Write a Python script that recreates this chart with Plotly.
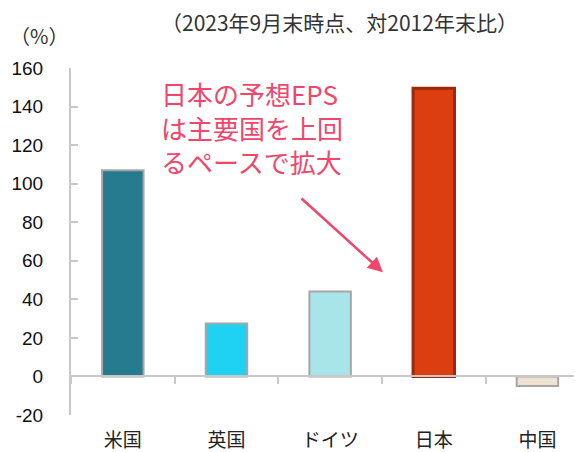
import plotly.graph_objects as go

categories = ["米国", "英国", "ドイツ", "日本", "中国"]
values = [107, 27.5, 44, 149.5, -5]
bar_colors = ["#277B8E", "#1FD2F2", "#A8E5E8", "#DC3E10", "#EEE2D2"]
line_colors = ["#A6A6A6", "#A6A6A6", "#A6A6A6", "#992A0C", "#A6A6A6"]
line_widths = [2, 2, 2, 3, 2]
y_ticks = [-20, 0, 20, 40, 60, 80, 100, 120, 140, 160]

FONT = "Liberation Sans, Arial, Noto Sans CJK JP, sans-serif"
CJK = "Noto Sans CJK JP, sans-serif"

fig = go.Figure()
fig.add_trace(go.Bar(
    x=categories, y=values, width=0.4,
    marker=dict(color=bar_colors, line=dict(color=line_colors, width=line_widths)),
    xaxis="x", yaxis="y", showlegend=False, hoverinfo="skip",
))
# invisible trace to carry the zero-line category axis
fig.add_trace(go.Scatter(
    x=categories, y=[0] * len(categories), mode="markers",
    marker=dict(opacity=0), xaxis="x2", yaxis="y", showlegend=False, hoverinfo="skip",
))

xrange = [-0.5, 4.43]
yrange = [-20, 160]
zero_pos = (0 - yrange[0]) / (yrange[1] - yrange[0])

# page has an 8px body margin, so the figure is drawn 8px in from the top-left
fig.update_layout(
    width=574, height=444,
    margin=dict(l=63, r=0, t=60, b=37, autoexpand=False),
    paper_bgcolor="white", plot_bgcolor="white",
    font=dict(family=FONT, color="#1a1a1a"),
    xaxis=dict(
        type="category", categoryorder="array", categoryarray=categories,
        range=xrange, showline=False, showgrid=False, ticks="",
        tickfont=dict(family=CJK, size=19, color="#222222"),
        ticklabelstandoff=12, fixedrange=True, automargin=False,
    ),
    xaxis2=dict(
        type="category", categoryorder="array", categoryarray=categories,
        range=xrange, overlaying="x", anchor="free", position=zero_pos,
        showline=True, linecolor="#C8C8C8", linewidth=2,
        ticks="outside", tickson="boundaries", ticklen=7, tickwidth=2, tickcolor="#C8C8C8",
        showticklabels=False, showgrid=False, automargin=False,
    ),
    yaxis=dict(
        range=yrange, tickvals=y_ticks, ticktext=[str(v) for v in y_ticks],
        showline=True, linecolor="#C8C8C8", linewidth=2,
        ticks="inside", ticklen=7, tickwidth=2, tickcolor="#C8C8C8",
        showgrid=False, zeroline=False, automargin=False,
        tickfont=dict(family=FONT, size=19, color="#111111"),
        ticklabelstandoff=22,
    ),
)

pink = "#F0466C"
annotations = [
    dict(text="（2023年9月末時点、対2012年末比）", xref="paper", yref="paper",
         x=(339 - 71) / 511, y=(415 - 22) / 347, showarrow=False,
         font=dict(family=CJK, size=21, color="#333333"), xanchor="center", yanchor="middle"),
    dict(text="（%）", xref="paper", yref="paper",
         x=(8 - 71) / 511, y=(415 - 36) / 347, showarrow=False,
         font=dict(family=CJK, size=20, color="#333333"), xanchor="left", yanchor="middle"),
    dict(text="日本の予想EPS<br>は主要国を上回<br>るペースで拡大", xref="paper", yref="paper",
         x=(159 - 71) / 511, y=(415 - 127) / 347, showarrow=False, align="left",
         font=dict(family=CJK, size=26, color=pink), xanchor="left", yanchor="middle"),
    dict(text="", xref="x", yref="y", axref="x", ayref="y",
         x=2.51, y=54, ax=1.71, ay=93,
         showarrow=True, arrowhead=2, arrowsize=1.2, arrowwidth=2.5, arrowcolor=pink),
]
fig.update_layout(annotations=annotations)

fig.write_html("out.html")
